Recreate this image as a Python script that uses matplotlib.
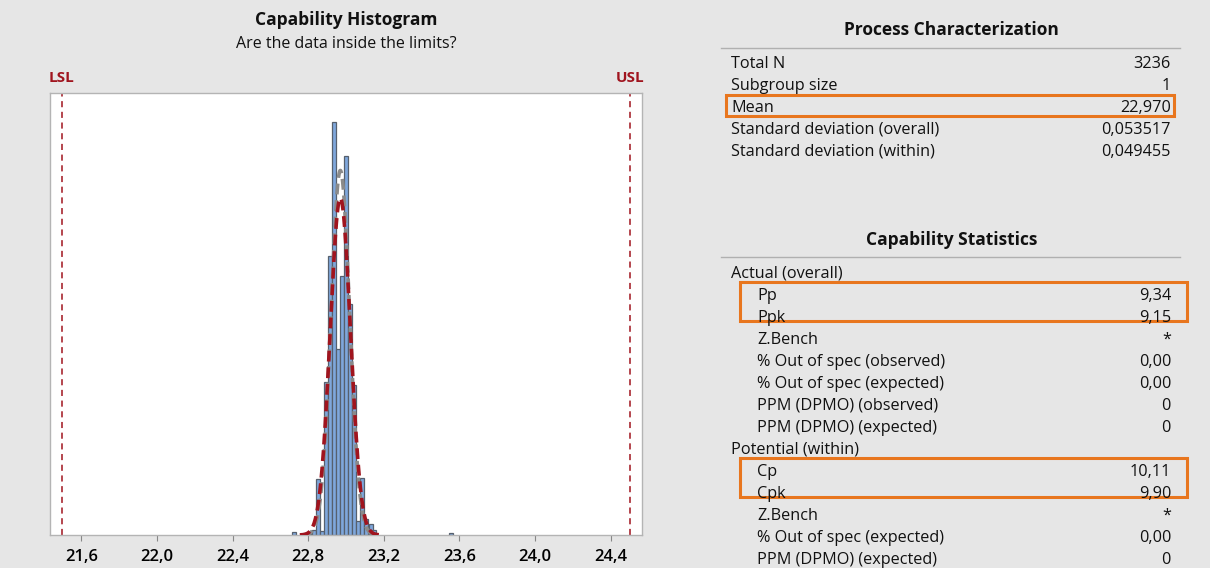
import numpy as np
import matplotlib
matplotlib.use("Agg")
import matplotlib.pyplot as plt
from matplotlib.patches import Rectangle

plt.rcParams['font.family'] = ['Open Sans', 'DejaVu Sans']

# ---- data ----
bin_width = 0.0212
bin_left = [22.7158, 22.8006, 22.8218, 22.843, 22.864, 22.885, 22.907, 22.928,
            22.949, 22.970, 22.991, 23.013, 23.034, 23.055, 23.076, 23.097,
            23.119, 23.140, 23.5426]
bin_count = [4, 2, 8, 85, 6, 232, 423, 627, 282, 393, 576, 351, 227, 22, 86,
             24, 17, 7, 3]

lsl, usl = 21.5, 24.5
n_total = 3236
mean = 22.970
sd_overall = 0.053517
sd_within = 0.049455
xticks = [21.6, 22.0, 22.4, 22.8, 23.2, 23.6, 24.0, 24.4]

proc_labels = ['Total N', 'Subgroup size', 'Mean',
               'Standard deviation (overall)', 'Standard deviation (within)']
proc_values = ['3236', '1', '22,970', '0,053517', '0,049455']

cap_labels = ['Actual (overall)', 'Pp', 'Ppk', 'Z.Bench',
              '% Out of spec (observed)', '% Out of spec (expected)',
              'PPM (DPMO) (observed)', 'PPM (DPMO) (expected)',
              'Potential (within)', 'Cp', 'Cpk', 'Z.Bench',
              '% Out of spec (expected)', 'PPM (DPMO) (expected)']
cap_values = ['', '9,34', '9,15', '*', '0,00', '0,00', '0', '0',
              '', '10,11', '9,90', '*', '0,00', '0']
cap_indent = [0, 1, 1, 1, 1, 1, 1, 1, 0, 1, 1, 1, 1, 1]

W, H = 1210, 568
bg = '#e6e6e6'
orange = '#e8761e'
darkred = '#a0141e'

fig = plt.figure(figsize=(W / 100, H / 100), dpi=100, facecolor=bg)


def fx(x):
    return x / W


def fy(y):
    return 1 - y / H


# ---- histogram panel ----
ax = fig.add_axes([fx(50), fy(535), 592 / W, 442 / H])
ax.set_facecolor('white')
ax.bar(bin_left, bin_count, width=bin_width, align='edge',
       color='#7fa7dc', edgecolor='#56606e', linewidth=0.9, zorder=2)

scale = n_total * bin_width
for sd, col in [(sd_within, '#8a8a8a'), (sd_overall, darkred)]:
    xs = np.linspace(mean - 4 * sd, mean + 4 * sd, 300)
    ys = scale * np.exp(-0.5 * ((xs - mean) / sd) ** 2) / (sd * np.sqrt(2 * np.pi))
    ax.plot(xs, ys, color=col, linestyle=(0, (3, 1.6)), linewidth=2.6, zorder=3)

ax.axvline(lsl, color=darkred, linestyle=(0, (4, 3)), linewidth=1.1, zorder=1)
ax.axvline(usl, color=darkred, linestyle=(0, (4, 3)), linewidth=1.1, zorder=1)

ax.set_xlim(21.435, 24.565)
ax.set_ylim(0, 671)
ax.set_yticks([])
ax.set_xticks(xticks)
ax.set_xticklabels([f'{t:.1f}'.replace('.', ',') for t in xticks],
                   fontsize=12, fontweight='semibold', color='#000000')
ax.tick_params(axis='x', direction='out', length=4, color='#888888', pad=6)
for s in ax.spines.values():
    s.set_color('#b4b4b4')
    s.set_linewidth(1.0)

fig.text(fx(346), fy(20), 'Capability Histogram', ha='center', va='center',
         fontsize=12.5, fontweight='bold', color='#111111')
fig.text(fx(346), fy(44), 'Are the data inside the limits?', ha='center',
         va='center', fontsize=11.5, color='#111111')
fig.text(fx(62), fy(78), 'LSL', ha='center', va='center', fontsize=11,
         fontweight='bold', color=darkred)
fig.text(fx(630), fy(78), 'USL', ha='center', va='center', fontsize=11,
         fontweight='bold', color=darkred)

# ---- right tables ----
lx, rx = 731, 1171
fig.text(fx(951), fy(30), 'Process Characterization', ha='center', va='center',
         fontsize=12.5, fontweight='bold', color='#111111')
fig.add_artist(plt.Line2D([fx(721), fx(1180)], [fy(48), fy(48)],
                          color='#b0b0b0', linewidth=1.0))
for i, (lab, val) in enumerate(zip(proc_labels, proc_values)):
    y = 64 + i * 22
    fig.text(fx(lx), fy(y), lab, ha='left', va='center', fontsize=11.7,
             color='#111111')
    fig.text(fx(rx), fy(y), val, ha='right', va='center', fontsize=11.7,
             color='#111111')

fig.text(fx(952), fy(240), 'Capability Statistics', ha='center', va='center',
         fontsize=12.5, fontweight='bold', color='#111111')
fig.add_artist(plt.Line2D([fx(721), fx(1180)], [fy(257), fy(257)],
                          color='#b0b0b0', linewidth=1.0))
for i, (lab, val, ind) in enumerate(zip(cap_labels, cap_values, cap_indent)):
    y = 274 + i * 22.0
    fig.text(fx(lx + 26 * ind), fy(y), lab, ha='left', va='center',
             fontsize=11.7, color='#111111')
    if val:
        fig.text(fx(rx), fy(y), val, ha='right', va='center', fontsize=11.7,
                 color='#111111')

# highlight boxes
for x0, y0, x1, y1 in [(726, 95, 1174, 116), (740, 282, 1187, 321),
                       (740, 458, 1187, 497)]:
    fig.add_artist(Rectangle((fx(x0), fy(y1)), (x1 - x0) / W, (y1 - y0) / H,
                             fill=False, edgecolor=orange, linewidth=2.2))

fig.savefig('out.png', dpi=100, facecolor=bg)
